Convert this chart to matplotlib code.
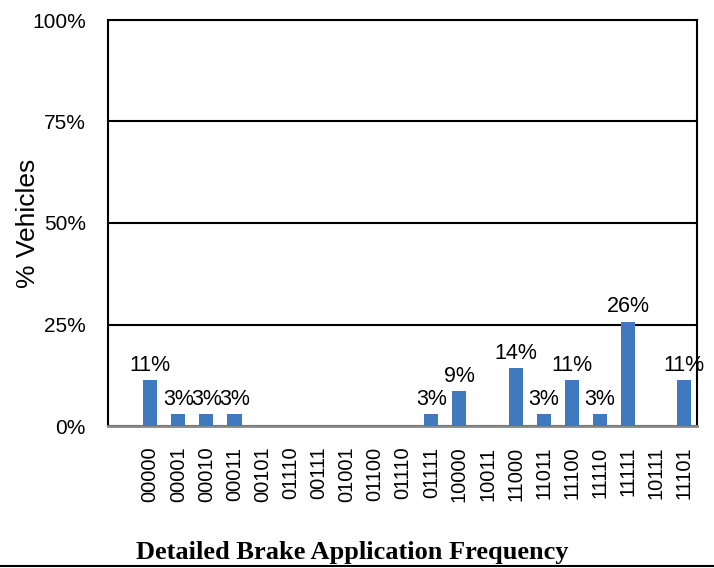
import matplotlib.pyplot as plt
from matplotlib.ticker import FuncFormatter
from matplotlib.lines import Line2D

# Brake application patterns and share of vehicles (%)
patterns = ['00000', '00001', '00010', '00011', '00101', '01110', '00111',
            '01001', '01100', '01110', '01111', '10000', '10011', '11000',
            '11011', '11100', '11110', '11111', '10111', '11101']
pct_vehicles = [11.4, 2.9, 2.9, 2.9, 0, 0, 0, 0, 0, 0, 2.9, 8.6, 0, 14.3,
                2.9, 11.4, 2.9, 25.7, 0, 11.4]
y_ticks = [0, 25, 50, 75, 100]

plt.rcParams['font.family'] = ['Liberation Sans', 'DejaVu Sans']

fig = plt.figure(figsize=(7.14, 5.68), dpi=100)
ax = fig.add_axes([108 / 714, 1 - 426 / 568, 589 / 714, 406 / 568])

x = list(range(len(patterns)))
bars = ax.bar(x, pct_vehicles, width=0.5, color='#4179BE', zorder=3)

# value labels above the bars (skip empty categories)
for xi, v in zip(x, pct_vehicles):
    if v > 0:
        ax.annotate(f'{v:.0f}%', (xi, v), xytext=(0, 3), textcoords='offset points',
                    ha='center', va='bottom', fontsize=15.5, zorder=4)

ax.set_xlim(-1.5, 19.45)
ax.set_ylim(0, 100)
ax.set_yticks(y_ticks)
ax.yaxis.set_major_formatter(FuncFormatter(lambda v, pos: f'{v:.0f}%'))
ax.yaxis.grid(True, color='black', linewidth=1.5, zorder=1)
ax.set_xticks(x)
ax.set_xticklabels(patterns, rotation=90, fontsize=14.5)
ax.tick_params(axis='x', length=0, pad=15)
ax.tick_params(axis='y', length=0, pad=16, labelsize=15)

for side in ['left', 'right', 'top']:
    ax.spines[side].set_color('black')
    ax.spines[side].set_linewidth(1.5)
ax.spines['bottom'].set_color('#888888')
ax.spines['bottom'].set_linewidth(2)

ax.set_ylabel('% Vehicles', fontsize=19)
ax.yaxis.set_label_coords(-0.115, 0.5)

fig.text(352 / 714, 1 - 552 / 568, 'Detailed Brake Application Frequency',
         ha='center', va='center', fontsize=19, fontweight='bold',
         family=['Liberation Serif', 'DejaVu Serif'])
fig.add_artist(Line2D([0, 1], [1 - 566 / 568, 1 - 566 / 568], color='black',
                      linewidth=1.5, transform=fig.transFigure))

fig.savefig('out.png', dpi=100)
